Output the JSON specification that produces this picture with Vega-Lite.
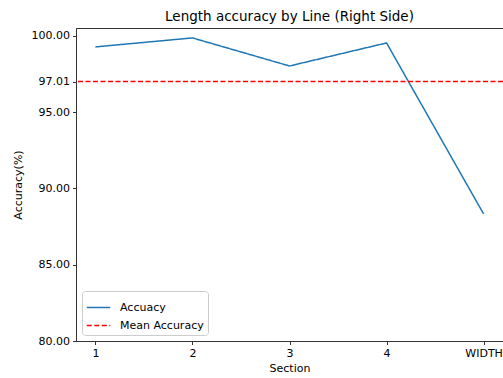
{
  "$schema": "https://vega.github.io/schema/vega-lite/v6.json",
  "width": 427,
  "height": 313,
  "autosize": {"type": "none"},
  "padding": {"left": 76, "top": 28, "right": 0, "bottom": 37},
  "background": "white",
  "title": {"text": "Length accuracy by Line (Right Side)", "font": "DejaVu Sans", "fontSize": 13.5, "fontWeight": "normal", "color": "#000", "offset": 5, "anchor": "middle"},
  "config": {
    "view": {"stroke": "#333", "strokeWidth": 1},
    "axis": {"labelFont": "DejaVu Sans", "titleFont": "DejaVu Sans", "labelFontSize": 11, "titleFontSize": 11, "titleFontWeight": "normal", "labelColor": "#000", "titleColor": "#000", "domainColor": "#333", "tickColor": "#333", "tickSize": 3.5, "grid": false}
  },
  "datasets": {
    "acc": [
      {"Section": "1", "Accuracy": 99.28, "Series": "Accuacy"},
      {"Section": "2", "Accuracy": 99.87, "Series": "Accuacy"},
      {"Section": "3", "Accuracy": 98.03, "Series": "Accuacy"},
      {"Section": "4", "Accuracy": 99.54, "Series": "Accuacy"},
      {"Section": "WIDTH", "Accuracy": 88.33, "Series": "Accuacy"}
    ],
    "mean": [
      {"Accuracy": 97.01, "Series": "Mean Accuracy"}
    ]
  },
  "layer": [
    {
      "data": {"name": "acc"},
      "mark": {"type": "line", "strokeWidth": 1.5},
      "encoding": {
        "x": {"field": "Section", "type": "ordinal", "scale": {"type": "point", "padding": 0.2}, "sort": null, "axis": {"labelAngle": 0, "title": "Section", "titlePadding": 4, "labelPadding": 3}},
        "y": {"field": "Accuracy", "type": "quantitative", "scale": {"domain": [80, 100.52], "nice": false, "zero": false}, "axis": {"values": [80, 85, 90, 95, 97.01, 100], "format": ".2f", "title": "Accuracy(%)", "titlePadding": 8, "labelPadding": 3}},
        "color": {"field": "Series", "type": "nominal", "scale": {"domain": ["Accuacy", "Mean Accuracy"], "range": ["#1f77b4", "#ff0000"]}, "legend": {"title": null, "orient": "bottom-left", "offset": 6, "symbolType": "stroke", "symbolStrokeWidth": 1.5, "symbolSize": 550, "labelOffset": 9, "labelFont": "DejaVu Sans", "labelFontSize": 11, "labelColor": "#000", "strokeColor": "#ccc", "fillColor": "white", "padding": 4, "cornerRadius": 3, "rowPadding": -4}},
        "strokeDash": {"field": "Series", "type": "nominal", "scale": {"domain": ["Accuacy", "Mean Accuracy"], "range": [[1, 0], [5, 2.5]]}, "legend": {"title": null, "orient": "bottom-left", "offset": 6, "symbolType": "stroke", "symbolStrokeWidth": 1.5, "symbolSize": 550, "labelOffset": 9, "labelFont": "DejaVu Sans", "labelFontSize": 11, "labelColor": "#000", "strokeColor": "#ccc", "fillColor": "white", "padding": 4, "cornerRadius": 3, "rowPadding": -4}}
      }
    },
    {
      "data": {"name": "mean"},
      "mark": {"type": "rule", "strokeWidth": 1.5},
      "encoding": {
        "y": {"field": "Accuracy", "type": "quantitative"},
        "color": {"field": "Series", "type": "nominal"},
        "strokeDash": {"field": "Series", "type": "nominal"}
      }
    }
  ]
}
